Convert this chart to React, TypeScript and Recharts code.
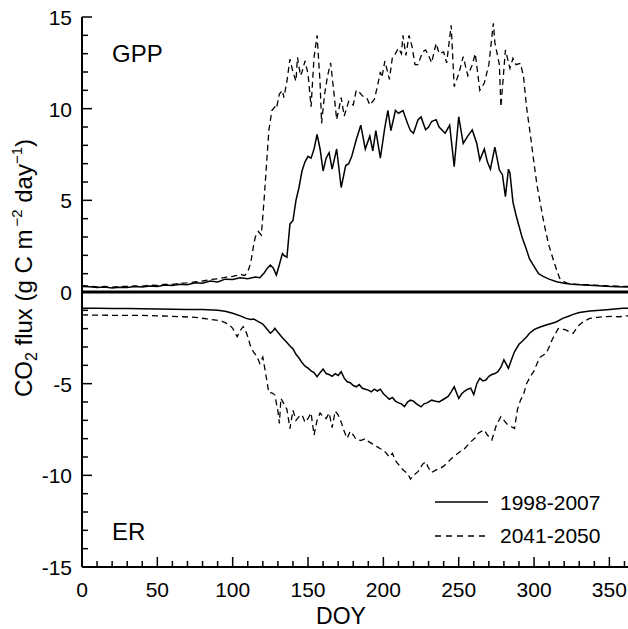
import React from 'react';
import { LineChart, Line, XAxis, YAxis, ReferenceLine, Legend } from 'recharts';

const FONT = '"Liberation Sans", Arial, Helvetica, sans-serif';

// ---------- data ----------
const gpp1998Days = [0,5,10,15,20,25,30,35,40,45,50,55,60,65,70,75,80,85,90,95,100,105,110,115,118,121,123,125,127,129,131,133,134,136,138,140,142,144,146,148,150,152,154,156,158,160,162,164,166,169,172,175,177,179,182,185,188,191,193,195,198,201,203,205,208,210,213,216,218,220,223,225,228,230,232,235,237,241,244,247,250,253,256,259,262,264,267,269,271,274,277,279,281,283,284,286,288,290,292,295,297,300,303,306,310,315,320,325,333,340,348,355,365];
const gpp1998Values = [0.30,0.28,0.24,0.27,0.22,0.26,0.25,0.30,0.27,0.33,0.30,0.38,0.35,0.42,0.40,0.50,0.48,0.60,0.55,0.70,0.68,0.78,0.72,0.82,0.78,1.05,1.30,1.47,1.30,0.93,1.50,2.10,2.00,1.90,3.70,3.90,5.00,5.70,6.60,7.10,7.40,7.30,7.80,8.60,7.80,6.60,7.30,7.60,6.70,7.80,5.70,6.90,7.00,7.40,8.30,9.10,7.80,8.50,7.70,8.80,7.30,9.00,9.90,8.80,9.90,9.75,9.90,9.20,8.80,8.66,9.40,9.55,8.85,9.00,9.30,9.40,9.00,8.66,9.10,6.84,9.56,8.10,8.50,8.84,8.10,7.20,7.80,7.10,6.70,7.90,6.65,6.40,5.20,6.70,6.50,4.90,4.20,3.60,3.00,2.30,1.80,1.40,1.00,0.85,0.70,0.56,0.48,0.42,0.38,0.35,0.31,0.29,0.26];

const gpp2050Days = [0,5,10,15,20,25,30,35,40,45,50,55,60,65,70,75,80,85,90,95,100,105,108,110,112,114,115,117,119,121,123,124,126,128,129,131,133,134,136,138,140,142,143,145,146,148,150,151,152,154,156,158,159,161,163,165,167,169,171,172,174,177,180,182,184,186,189,191,194,196,198,199,201,204,206,208,210,212,213,215,217,219,221,223,226,228,230,232,235,237,240,242,245,247,250,253,256,259,261,264,267,270,273,274,277,278,281,284,286,288,291,293,295,298,300,302,304,306,308,310,313,315,317,320,322,328,335,345,355,365];
const gpp2050Values = [0.35,0.32,0.28,0.30,0.27,0.30,0.30,0.33,0.32,0.37,0.36,0.42,0.42,0.48,0.50,0.55,0.60,0.68,0.72,0.80,0.85,0.95,0.90,1.10,1.60,2.60,3.00,3.30,3.10,5.20,7.60,8.80,9.90,10.10,10.00,10.80,11.00,10.60,11.50,12.70,12.00,11.50,12.80,11.80,12.00,12.60,11.90,11.00,10.10,12.80,14.00,11.40,9.20,10.80,11.80,12.50,11.00,9.40,10.20,10.60,9.60,10.40,10.20,11.00,10.90,10.70,10.60,10.20,10.50,11.20,12.00,11.70,12.60,11.60,12.80,13.00,13.30,13.00,14.00,12.90,14.00,13.40,12.40,12.40,13.10,13.20,12.90,12.50,13.56,13.00,13.10,12.50,14.55,11.20,11.90,12.84,11.80,12.40,13.00,11.00,11.40,12.40,14.66,13.60,12.40,10.10,13.20,12.20,12.75,12.40,12.47,11.75,10.10,8.30,7.00,5.80,4.90,4.00,3.20,2.50,1.70,1.20,0.75,0.55,0.48,0.42,0.40,0.35,0.32,0.30];

const er1998Days = [0,10,20,30,40,50,60,70,80,90,95,100,105,109,112,114,117,120,123,125,127,128,130,133,136,138,140,142,144,146,148,150,152,154,156,158,160,162,164,166,168,170,172,174,176,178,180,182,184,186,188,190,192,194,196,198,200,202,204,206,208,210,212,214,216,218,220,222,225,227,229,232,234,237,240,243,245,247,250,252,254,256,258,260,262,264,266,268,270,272,274,276,278,280,282,283,285,287,290,292,295,297,300,302,305,308,312,315,319,322,326,330,337,344,350,359,365];
const er1998Values = [-0.89,-0.88,-0.90,-0.90,-0.92,-0.93,-0.94,-0.95,-0.96,-1.00,-1.05,-1.16,-1.30,-1.44,-1.50,-1.47,-1.62,-1.75,-2.05,-2.25,-2.10,-1.98,-2.20,-2.50,-2.75,-2.95,-3.10,-3.40,-3.60,-3.85,-4.05,-4.15,-4.30,-4.40,-4.62,-4.40,-4.20,-4.45,-4.50,-4.60,-4.45,-4.55,-4.35,-4.70,-4.90,-4.95,-5.10,-5.17,-5.05,-5.25,-5.30,-5.35,-5.45,-5.30,-5.40,-5.30,-5.55,-5.70,-5.85,-5.75,-5.95,-6.05,-6.10,-6.25,-6.00,-5.90,-5.95,-6.10,-6.26,-6.10,-6.05,-5.90,-5.95,-6.00,-5.85,-5.70,-5.45,-5.17,-5.80,-5.55,-5.40,-5.30,-5.25,-5.60,-5.00,-4.70,-4.85,-4.80,-4.60,-4.50,-4.45,-4.35,-4.10,-3.70,-4.00,-4.16,-3.70,-3.26,-2.85,-2.70,-2.45,-2.25,-2.05,-1.98,-1.88,-1.80,-1.70,-1.62,-1.44,-1.35,-1.22,-1.12,-1.04,-1.00,-0.96,-0.89,-0.88];

const er2050Days = [0,10,20,30,40,50,60,67,75,83,89,93,96,98,100,102,103,105,107,109,110,112,114,116,118,120,122,124,126,128,130,131,132,134,136,138,140,142,144,146,148,150,152,154,156,158,160,162,164,166,168,170,172,174,176,178,180,182,185,188,190,193,196,198,200,202,204,206,208,210,213,216,218,220,223,226,228,230,232,235,238,240,242,245,248,251,254,256,258,261,263,265,267,269,272,275,278,280,282,285,287,289,291,293,295,298,300,302,304,306,308,310,312,314,316,318,321,324,326,328,330,333,337,342,346,352,357,361,365];
const er2050Values = [-1.25,-1.26,-1.27,-1.28,-1.28,-1.30,-1.33,-1.35,-1.38,-1.47,-1.53,-1.60,-1.71,-1.80,-1.98,-2.30,-2.44,-2.10,-1.89,-2.20,-2.44,-3.00,-3.30,-3.50,-3.90,-3.55,-4.50,-5.50,-5.50,-5.62,-6.50,-7.17,-5.80,-6.10,-6.40,-7.45,-6.45,-7.00,-6.80,-6.70,-7.10,-6.90,-6.60,-7.80,-7.00,-6.60,-6.80,-6.90,-6.60,-7.40,-6.50,-6.70,-7.10,-7.60,-7.98,-7.60,-7.80,-8.05,-8.10,-8.00,-8.15,-8.30,-8.45,-8.55,-8.60,-8.80,-9.00,-8.80,-9.20,-9.40,-9.70,-9.90,-10.20,-10.00,-9.80,-9.40,-9.26,-9.60,-9.85,-9.70,-9.60,-9.50,-9.35,-9.10,-8.90,-8.70,-8.53,-8.35,-8.17,-7.95,-7.70,-7.60,-7.53,-7.80,-8.07,-7.26,-6.80,-7.00,-7.20,-7.35,-7.44,-6.40,-5.90,-5.60,-5.00,-4.55,-4.30,-3.90,-3.55,-3.45,-3.35,-3.00,-2.60,-2.30,-2.00,-2.00,-2.07,-2.20,-2.25,-2.00,-1.80,-1.60,-1.44,-1.38,-1.35,-1.33,-1.35,-1.30,-1.30];

const xTicks = [0,10,20,30,40,50,60,70,80,90,100,110,120,130,140,150,160,170,180,190,200,210,220,230,240,250,260,270,280,290,300,310,320,330,340,350,360];
const xTickLabels = [0,50,100,150,200,250,300,350];
const yTicks = [-15,-14,-13,-12,-11,-10,-9,-8,-7,-6,-5,-4,-3,-2,-1,0,1,2,3,4,5,6,7,8,9,10,11,12,13,14,15];
const yTickLabels = [-15,-10,-5,0,5,10,15];
const periodNames = ['1998-2007', '2041-2050'];
const panelNames = ['GPP', 'ER'];

const toRows = (days: number[], vals: number[]) => days.map((d, i) => ({ doy: d, v: vals[i] }));
const gpp1998 = toRows(gpp1998Days, gpp1998Values);
const gpp2050 = toRows(gpp2050Days, gpp2050Values);
const er1998 = toRows(er1998Days, er1998Values);
const er2050 = toRows(er2050Days, er2050Values);

// ---------- custom ticks ----------
const XTick = (props: any) => {
  const { x, y, payload } = props;
  const v = payload.value;
  const major = xTickLabels.includes(v);
  const len = major ? 10 : 6;
  return (
    <g>
      <line x1={x} y1={y} x2={x} y2={y - len} stroke="#000" strokeWidth={1.5} />
      {major && (
        <text x={x} y={y + 30} textAnchor="middle" fontFamily={FONT} fontSize={21} fill="#000">{v}</text>
      )}
    </g>
  );
};

const YTickLeft = (props: any) => {
  const { x, y, payload } = props;
  const v = payload.value;
  const major = yTickLabels.includes(v);
  const len = major ? 10 : 6;
  return (
    <g>
      <line x1={x} y1={y} x2={x + len} y2={y} stroke="#000" strokeWidth={1.5} />
      {major && (
        <text x={x - 10} y={y + 8} textAnchor="end" fontFamily={FONT} fontSize={21} fill="#000">{v}</text>
      )}
    </g>
  );
};

const YTickRight = (props: any) => {
  const { x, y, payload } = props;
  const v = payload.value;
  const major = yTickLabels.includes(v);
  const len = major ? 10 : 6;
  return <line x1={x} y1={y} x2={x - len} y2={y} stroke="#000" strokeWidth={1.5} />;
};

const YLabel = () => (
  <text x={32} y={268} transform="rotate(-90, 32, 268)" textAnchor="middle" fontFamily={FONT} fontSize={24} fill="#000">
    CO<tspan fontSize={16} dy={5}>2</tspan>
    <tspan dy={-5}> flux (g C m</tspan>
    <tspan fontSize={15} dy={-10}>{'\u2009\u22122'}</tspan>
    <tspan dy={10}> day</tspan>
    <tspan fontSize={15} dy={-10}>{'\u22121'}</tspan>
    <tspan dy={10}>)</tspan>
  </text>
);

const XLabel = () => (
  <text x={341} y={624} textAnchor="middle" fontFamily={FONT} fontSize={23} fill="#000">DOY</text>
);

const Overlay = () => (
  <svg width={640} height={629} style={{ position: 'absolute', left: 0, top: 0 }}>
    <text x={112} y={62} fontFamily={FONT} fontSize={24} fill="#000">{panelNames[0]}</text>
    <text x={112} y={540} fontFamily={FONT} fontSize={24} fill="#000">{panelNames[1]}</text>
    <line x1={435} y1={502} x2={488} y2={502} stroke="#000" strokeWidth={1.5} />
    <text x={500} y={510} fontFamily={FONT} fontSize={21} fill="#000">{periodNames[0]}</text>
    <line x1={435} y1={536} x2={488} y2={536} stroke="#000" strokeWidth={1.5} strokeDasharray="6 5" />
    <text x={500} y={543} fontFamily={FONT} fontSize={21} fill="#000">{periodNames[1]}</text>
  </svg>
);

export default function App() {
  return (
    <div style={{ position: 'absolute', left: 0, top: 0, width: 628, height: 629, overflow: 'hidden', background: '#fff' }}>
      <LineChart width={640} height={629} margin={{ top: 17, right: 0, bottom: 0, left: 0 }}>
        <XAxis
          xAxisId="b"
          dataKey="doy"
          type="number"
          domain={[0, 365]}
          ticks={xTicks}
          interval={0}
          tickSize={0}
          tickMargin={0}
          tickLine={false}
          height={62}
          allowDataOverflow
          axisLine={{ stroke: '#000', strokeWidth: 2 }}
          tick={(p: any) => <XTick {...p} />}
          label={<XLabel />}
        />
        <XAxis
          xAxisId="t"
          orientation="top"
          type="number"
          domain={[0, 365]}
          tick={false}
          tickLine={false}
          height={0}
          axisLine={{ stroke: '#000', strokeWidth: 2.5 }}
        />
        <YAxis
          yAxisId="l"
          type="number"
          domain={[-15, 15]}
          ticks={yTicks}
          interval={0}
          width={82}
          tickSize={0}
          tickMargin={0}
          tickLine={false}
          allowDataOverflow
          axisLine={{ stroke: '#000', strokeWidth: 2 }}
          tick={(p: any) => <YTickLeft {...p} />}
          label={<YLabel />}
        />
        <YAxis
          yAxisId="r"
          orientation="right"
          type="number"
          domain={[-15, 15]}
          ticks={yTicks}
          interval={0}
          width={8}
          tickSize={0}
          tickMargin={0}
          tickLine={false}
          axisLine={{ stroke: '#000', strokeWidth: 2 }}
          tick={(p: any) => <YTickRight {...p} />}
        />
        <ReferenceLine xAxisId="b" yAxisId="l" y={0} stroke="#000" strokeWidth={3} />
        <Line xAxisId="b" yAxisId="l" data={gpp1998} dataKey="v" name={`GPP ${periodNames[0]}`} stroke="#000" strokeWidth={1.5} dot={false} isAnimationActive={false} />
        <Line xAxisId="b" yAxisId="l" data={gpp2050} dataKey="v" name={`GPP ${periodNames[1]}`} stroke="#000" strokeWidth={1.3} strokeDasharray="6 4" dot={false} isAnimationActive={false} />
        <Line xAxisId="b" yAxisId="l" data={er1998} dataKey="v" name={`ER ${periodNames[0]}`} stroke="#000" strokeWidth={1.5} dot={false} isAnimationActive={false} />
        <Line xAxisId="b" yAxisId="l" data={er2050} dataKey="v" name={`ER ${periodNames[1]}`} stroke="#000" strokeWidth={1.3} strokeDasharray="6 4" dot={false} isAnimationActive={false} />
        <Legend
          layout="horizontal"
          verticalAlign="middle"
          align="center"
          wrapperStyle={{ position: 'absolute', left: 0, top: 0, width: 640, height: 629, pointerEvents: 'none' }}
          content={() => <Overlay />}
        />
      </LineChart>
    </div>
  );
}
